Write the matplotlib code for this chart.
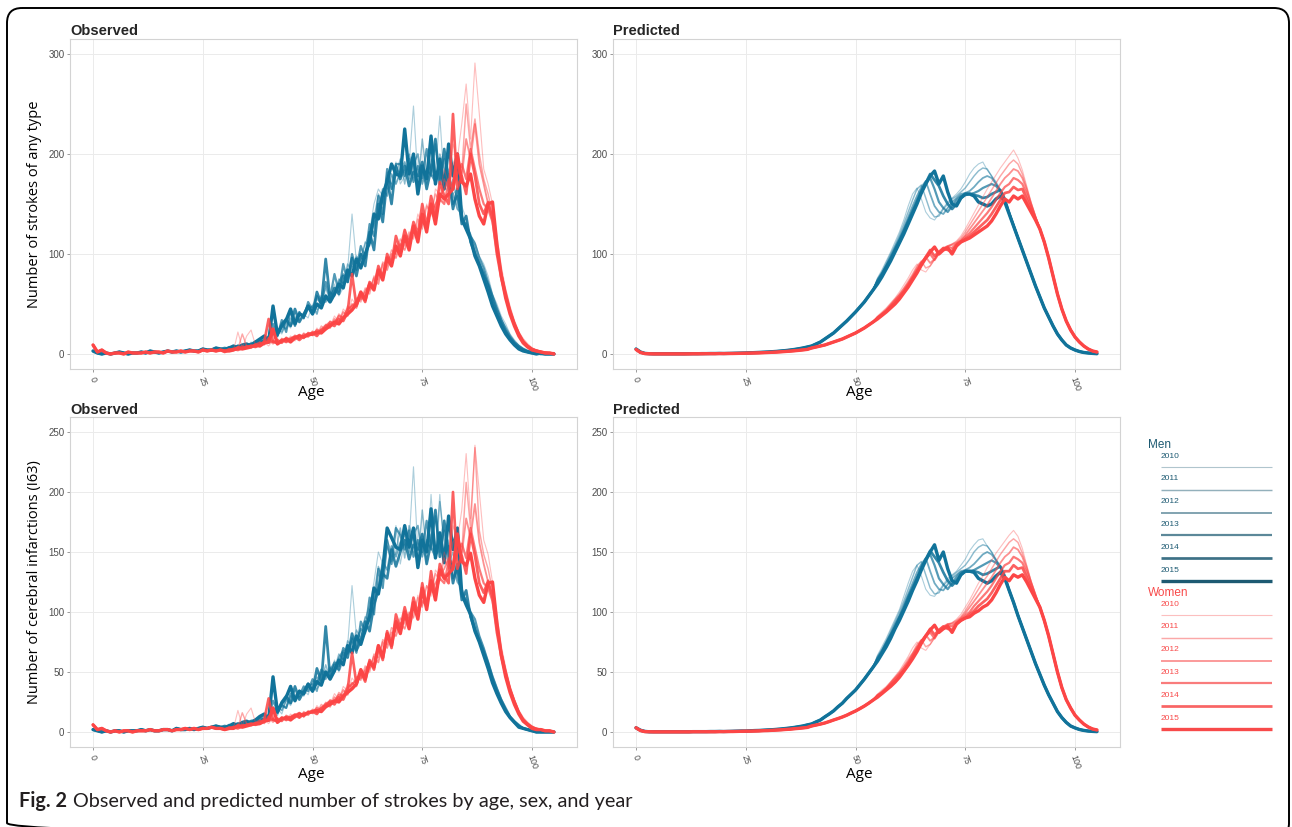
import matplotlib
matplotlib.use('Agg')
import matplotlib.pyplot as plt
from matplotlib.lines import Line2D
from matplotlib.patches import FancyBboxPatch

# ============================================================
# Data
# ============================================================

AGES = list(range(0, 106))
YEARS = ['2010', '2011', '2012', '2013', '2014', '2015']
AGE_TICKS = [0, 25, 50, 75, 100]

# --- Observed, strokes of any type: ages 0-29 shared, 30-105 per year ---
OBS_ANY_MEN_YOUNG = [3, 1, 0, 1, 0, 1, 2, 1, 0, 1,
                     1, 2, 1, 3, 2, 1, 2, 3, 2, 3,
                     2, 3, 4, 3, 3, 5, 4, 4, 6, 5]
OBS_ANY_WOMEN_YOUNG = [9, 2, 4, 1, 0, 1, 1, 0, 2, 1,
                       1, 1, 2, 1, 2, 2, 1, 3, 2, 2,
                       3, 2, 3, 3, 2, 4, 3, 4, 3, 4]

OBS_ANY_MEN_2010 = [6, 4, 8, 5, 9, 7, 12, 8, 10, 15,
                    13, 19, 24, 20, 30, 26, 38, 33, 40, 36,
                    50, 44, 48, 60, 52, 70, 58, 66, 85, 140,
                    92, 98, 110, 122, 150, 165, 158, 175, 170, 192,
                    170, 178, 190, 248, 175, 188, 170, 195, 182, 238,
                    170, 185, 160, 165, 148, 135, 118, 112, 98, 90,
                    78, 60, 50, 38, 30, 20, 14, 9, 6, 4,
                    3, 2, 1, 1, 0, 0]
OBS_ANY_MEN_2011 = [4, 7, 5, 9, 6, 10, 8, 13, 11, 14,
                    18, 22, 17, 28, 25, 36, 31, 42, 35, 48,
                    42, 55, 50, 66, 54, 60, 75, 70, 90, 82,
                    98, 92, 112, 108, 135, 160, 150, 182, 165, 178,
                    195, 170, 200, 185, 165, 215, 178, 190, 170, 200,
                    185, 162, 175, 150, 138, 128, 120, 105, 92, 80,
                    70, 55, 42, 32, 22, 16, 11, 7, 4, 3,
                    2, 1, 1, 0, 0, 0]
OBS_ANY_MEN_2012 = [5, 6, 7, 6, 8, 9, 7, 11, 14, 12,
                    16, 20, 25, 22, 32, 28, 35, 40, 36, 45,
                    48, 40, 58, 52, 62, 58, 72, 80, 76, 88,
                    85, 100, 96, 118, 130, 142, 165, 158, 180, 170,
                    182, 192, 175, 190, 200, 170, 185, 178, 210, 175,
                    195, 168, 160, 145, 140, 125, 115, 102, 90, 82,
                    70, 58, 45, 35, 24, 17, 12, 8, 5, 3,
                    2, 1, 0, 1, 0, 0]
OBS_ANY_MEN_2013 = [5, 7, 6, 8, 9, 7, 10, 9, 13, 16,
                    14, 30, 18, 34, 22, 44, 28, 42, 36, 52,
                    44, 58, 50, 72, 56, 80, 62, 90, 72, 100,
                    84, 108, 96, 130, 118, 158, 140, 185, 165, 190,
                    190, 178, 195, 172, 188, 176, 205, 180, 172, 190,
                    170, 180, 150, 158, 135, 130, 118, 110, 96, 86,
                    72, 58, 46, 34, 26, 18, 12, 8, 5, 3,
                    2, 1, 1, 0, 0, 0]
OBS_ANY_MEN_2014 = [6, 5, 7, 8, 6, 9, 10, 12, 11, 13,
                    17, 24, 19, 30, 35, 28, 45, 32, 40, 48,
                    40, 62, 50, 95, 55, 66, 60, 78, 72, 96,
                    78, 100, 88, 122, 104, 150, 132, 175, 150, 188,
                    175, 188, 168, 182, 178, 192, 165, 185, 215, 170,
                    205, 175, 145, 165, 130, 138, 112, 100, 90, 78,
                    68, 52, 40, 30, 22, 15, 10, 6, 4, 2,
                    1, 1, 0, 0, 0, 0]
OBS_ANY_MEN_2015 = [4, 6, 8, 6, 9, 10, 8, 12, 15, 18,
                    12, 48, 20, 28, 34, 45, 30, 40, 38, 48,
                    40, 50, 46, 58, 52, 60, 70, 66, 84, 78,
                    95, 86, 100, 112, 140, 135, 160, 172, 190, 180,
                    178, 225, 180, 200, 160, 188, 175, 218, 170, 195,
                    165, 210, 178, 200, 135, 125, 115, 98, 88, 75,
                    62, 48, 38, 28, 20, 14, 9, 5, 3, 2,
                    1, 0, 1, 0, 0, 0]

OBS_ANY_WOMEN_2010 = [2, 5, 3, 22, 6, 18, 24, 9, 7, 12,
                      8, 14, 10, 16, 12, 18, 13, 20, 15, 22,
                      18, 26, 21, 30, 28, 38, 32, 45, 40, 55,
                      48, 62, 55, 72, 68, 86, 80, 98, 95, 112,
                      100, 125, 110, 118, 140, 128, 150, 138, 165, 160,
                      185, 170, 210, 195, 230, 270, 215, 291, 240, 185,
                      170, 150, 118, 88, 65, 48, 33, 22, 14, 9,
                      6, 4, 3, 2, 1, 1]
OBS_ANY_WOMEN_2011 = [4, 3, 6, 5, 20, 8, 6, 10, 12, 9,
                      14, 10, 15, 11, 17, 14, 19, 15, 21, 18,
                      23, 19, 28, 24, 33, 30, 40, 36, 48, 44,
                      56, 52, 66, 60, 78, 74, 92, 88, 104, 100,
                      115, 108, 122, 115, 135, 125, 148, 140, 160, 152,
                      175, 165, 190, 200, 182, 250, 205, 235, 200, 175,
                      160, 140, 112, 82, 64, 46, 33, 22, 15, 10,
                      6, 4, 3, 2, 1, 1]
OBS_ANY_WOMEN_2012 = [3, 4, 5, 6, 8, 6, 9, 7, 10, 13,
                      11, 13, 10, 15, 13, 16, 18, 15, 20, 17,
                      22, 20, 25, 29, 26, 35, 31, 42, 38, 50,
                      46, 60, 58, 64, 76, 70, 90, 84, 100, 96,
                      110, 104, 118, 124, 115, 138, 130, 142, 150, 158,
                      165, 175, 168, 188, 178, 215, 195, 230, 190, 170,
                      150, 138, 108, 82, 62, 44, 31, 21, 13, 8,
                      5, 4, 2, 2, 1, 0]
OBS_ANY_WOMEN_2013 = [3, 5, 4, 7, 6, 8, 7, 9, 11, 10,
                      16, 12, 14, 11, 16, 14, 17, 19, 16, 21,
                      19, 24, 22, 28, 32, 30, 38, 36, 45, 48,
                      52, 55, 62, 70, 66, 82, 78, 95, 90, 106,
                      102, 115, 110, 126, 120, 132, 128, 145, 140, 155,
                      150, 172, 165, 180, 190, 175, 205, 185, 165, 150,
                      145, 132, 102, 80, 60, 44, 30, 20, 13, 8,
                      5, 3, 2, 1, 1, 1]
OBS_ANY_WOMEN_2014 = [2, 4, 5, 4, 6, 7, 8, 7, 9, 12,
                      35, 12, 11, 14, 12, 15, 17, 14, 18, 20,
                      21, 18, 24, 26, 30, 28, 35, 33, 42, 80,
                      48, 60, 52, 72, 66, 88, 76, 100, 90, 118,
                      104, 124, 110, 132, 120, 150, 128, 158, 140, 172,
                      158, 150, 240, 165, 178, 160, 200, 178, 150, 140,
                      152, 135, 100, 76, 58, 42, 30, 20, 12, 8,
                      5, 3, 2, 1, 1, 0]
OBS_ANY_WOMEN_2015 = [3, 3, 4, 6, 5, 6, 7, 9, 8, 11,
                      12, 25, 10, 13, 15, 12, 16, 18, 17, 19,
                      20, 22, 21, 25, 28, 32, 30, 36, 40, 44,
                      50, 62, 54, 70, 64, 84, 74, 96, 88, 108,
                      98, 118, 104, 128, 112, 140, 122, 150, 130, 160,
                      155, 160, 165, 200, 172, 168, 180, 155, 138, 130,
                      150, 152, 110, 78, 56, 40, 28, 18, 11, 7,
                      4, 3, 2, 1, 1, 0]

# --- Observed, cerebral infarctions (I63) ---
OBS_I63_MEN_YOUNG = [2, 1, 0, 1, 0, 1, 1, 0, 1, 1,
                     1, 2, 1, 2, 1, 1, 2, 2, 1, 3,
                     2, 2, 3, 2, 3, 4, 3, 4, 5, 4]
OBS_I63_WOMEN_YOUNG = [6, 2, 3, 1, 0, 1, 0, 1, 1, 0,
                       1, 1, 1, 2, 1, 1, 2, 2, 1, 2,
                       2, 3, 2, 3, 2, 3, 3, 4, 3, 3]

OBS_I63_MEN_2010 = [5, 3, 6, 4, 8, 5, 10, 7, 9, 12,
                    11, 16, 20, 15, 26, 22, 30, 28, 35, 31,
                    42, 36, 40, 52, 45, 60, 50, 58, 72, 122,
                    80, 85, 95, 105, 125, 150, 140, 160, 150, 172,
                    140, 160, 158, 221, 150, 165, 140, 198, 150, 198,
                    145, 160, 130, 138, 120, 110, 98, 90, 80, 70,
                    60, 48, 38, 28, 20, 13, 9, 6, 3, 2,
                    1, 1, 1, 0, 0, 0]
OBS_I63_MEN_2011 = [3, 6, 4, 7, 5, 8, 7, 10, 9, 11,
                    14, 18, 14, 23, 20, 30, 26, 35, 30, 40,
                    36, 46, 42, 56, 45, 52, 65, 60, 76, 70,
                    85, 78, 96, 92, 115, 138, 128, 155, 142, 150,
                    170, 145, 172, 160, 140, 185, 150, 165, 145, 192,
                    160, 140, 150, 128, 118, 108, 100, 88, 76, 66,
                    56, 45, 34, 26, 18, 12, 8, 5, 3, 2,
                    1, 1, 0, 0, 0, 0]
OBS_I63_MEN_2012 = [4, 5, 6, 5, 7, 8, 6, 9, 12, 10,
                    13, 17, 21, 18, 27, 24, 30, 34, 31, 38,
                    40, 34, 50, 44, 54, 50, 62, 68, 65, 75,
                    72, 86, 82, 100, 110, 122, 142, 135, 155, 146,
                    158, 165, 150, 165, 172, 146, 160, 152, 180, 150,
                    168, 145, 138, 125, 120, 106, 98, 86, 76, 68,
                    58, 46, 36, 27, 19, 13, 9, 5, 3, 2,
                    1, 1, 0, 0, 0, 0]
OBS_I63_MEN_2013 = [4, 6, 5, 7, 8, 6, 8, 8, 11, 14,
                    12, 26, 18, 22, 20, 32, 28, 30, 38, 34,
                    44, 40, 52, 48, 51, 58, 55, 70, 66, 78,
                    66, 92, 84, 112, 98, 136, 120, 160, 140, 170,
                    164, 152, 168, 146, 160, 150, 176, 154, 146, 163,
                    146, 155, 128, 135, 115, 110, 100, 94, 80, 70,
                    58, 46, 36, 27, 20, 13, 9, 6, 3, 2,
                    1, 1, 0, 0, 0, 0]
OBS_I63_MEN_2014 = [5, 4, 6, 7, 5, 8, 9, 10, 9, 11,
                    14, 20, 16, 25, 30, 24, 38, 27, 34, 40,
                    34, 53, 42, 88, 46, 56, 52, 66, 62, 82,
                    68, 76, 92, 84, 106, 118, 132, 128, 152, 138,
                    150, 160, 144, 156, 152, 165, 140, 158, 185, 146,
                    176, 150, 124, 140, 110, 118, 96, 85, 76, 66,
                    56, 43, 33, 25, 18, 12, 8, 5, 3, 2,
                    1, 0, 0, 0, 0, 0]
OBS_I63_MEN_2015 = [3, 5, 7, 5, 8, 9, 7, 10, 13, 15,
                    10, 46, 17, 24, 29, 38, 26, 34, 32, 40,
                    34, 42, 39, 50, 44, 51, 60, 56, 72, 66,
                    80, 73, 85, 96, 120, 115, 136, 170, 162, 154,
                    152, 172, 154, 170, 137, 160, 150, 186, 145, 166,
                    141, 180, 152, 170, 115, 106, 98, 84, 75, 64,
                    53, 41, 32, 24, 17, 12, 8, 4, 3, 2,
                    1, 0, 0, 0, 0, 0]

OBS_I63_WOMEN_2010 = [2, 4, 3, 18, 5, 15, 20, 8, 6, 10,
                      7, 12, 8, 13, 10, 15, 11, 16, 12, 18,
                      15, 22, 18, 25, 23, 32, 27, 38, 34, 45,
                      40, 52, 46, 60, 57, 72, 66, 82, 78, 92,
                      84, 102, 90, 96, 114, 105, 122, 113, 135, 130,
                      150, 140, 172, 160, 185, 232, 178, 239, 200, 160,
                      148, 125, 98, 72, 54, 38, 27, 18, 11, 7,
                      5, 3, 2, 1, 1, 0]
OBS_I63_WOMEN_2011 = [3, 2, 5, 4, 16, 7, 5, 8, 10, 7,
                      12, 8, 12, 9, 14, 12, 15, 12, 17, 15,
                      19, 16, 23, 20, 27, 25, 33, 30, 40, 37,
                      46, 43, 55, 50, 65, 62, 77, 73, 87, 84,
                      95, 90, 100, 95, 112, 104, 122, 116, 132, 126,
                      145, 136, 158, 165, 150, 208, 170, 237, 168, 148,
                      136, 118, 94, 68, 52, 38, 27, 18, 12, 8,
                      5, 3, 2, 1, 1, 0]
OBS_I63_WOMEN_2012 = [2, 3, 4, 5, 6, 5, 7, 6, 8, 11,
                      9, 11, 8, 12, 11, 13, 15, 12, 16, 14,
                      18, 16, 20, 24, 21, 29, 26, 35, 31, 41,
                      38, 50, 48, 53, 63, 58, 75, 70, 83, 80,
                      91, 86, 98, 103, 95, 114, 108, 118, 124, 131,
                      136, 145, 140, 156, 148, 178, 162, 190, 158, 140,
                      125, 114, 90, 68, 51, 36, 26, 17, 11, 7,
                      4, 3, 2, 1, 1, 0]
OBS_I63_WOMEN_2013 = [2, 4, 3, 6, 5, 6, 6, 7, 9, 8,
                      13, 10, 11, 9, 13, 12, 14, 16, 13, 17,
                      16, 20, 18, 23, 26, 25, 31, 30, 37, 40,
                      43, 45, 51, 58, 55, 68, 65, 79, 75, 88,
                      85, 95, 91, 104, 99, 109, 106, 120, 116, 128,
                      124, 142, 136, 149, 157, 145, 170, 153, 136, 124,
                      120, 109, 85, 66, 50, 36, 25, 16, 10, 7,
                      4, 3, 2, 1, 1, 0]
OBS_I63_WOMEN_2014 = [2, 3, 4, 3, 5, 6, 7, 6, 7, 10,
                      28, 10, 9, 12, 10, 12, 14, 12, 15, 16,
                      17, 15, 20, 22, 25, 23, 29, 27, 35, 66,
                      40, 50, 42, 60, 52, 72, 60, 84, 70, 98,
                      86, 104, 90, 112, 98, 124, 104, 134, 112, 140,
                      130, 124, 200, 136, 147, 132, 165, 147, 124, 116,
                      126, 112, 83, 63, 48, 35, 25, 16, 10, 6,
                      4, 2, 2, 1, 1, 0]
OBS_I63_WOMEN_2015 = [2, 3, 3, 5, 4, 5, 6, 7, 7, 9,
                      10, 20, 8, 11, 12, 10, 13, 15, 14, 16,
                      17, 18, 17, 21, 23, 26, 25, 30, 33, 36,
                      40, 52, 44, 58, 54, 72, 62, 82, 72, 92,
                      82, 100, 86, 108, 94, 120, 102, 126, 110, 135,
                      128, 132, 136, 165, 142, 139, 149, 128, 114, 108,
                      124, 125, 91, 64, 46, 33, 23, 15, 9, 6,
                      3, 2, 2, 1, 1, 0]

# --- Predicted, any type: ages 0-54 shared, 55-105 per year ---
PRED_ANY_MEN_YOUNG = [5, 2, 0.6, 0.3, 0.2, 0.2, 0.2, 0.2, 0.2, 0.2,
                      0.2, 0.2, 0.3, 0.3, 0.3, 0.4, 0.4, 0.5, 0.5, 0.6,
                      0.5, 0.6, 0.7, 0.8, 0.9, 1.0, 1.2, 1.4, 1.6, 1.8,
                      2.0, 2.3, 2.6, 3.0, 3.4, 3.9, 4.5, 5.2, 6.0, 7.0,
                      8, 10, 12, 15, 18, 21, 25, 29, 33, 37.5,
                      42, 47, 52, 58, 64]
PRED_ANY_WOMEN_YOUNG = [4.5, 1.5, 0.4, 0.2, 0.1, 0.1, 0.1, 0.1, 0.1, 0.1,
                        0.1, 0.1, 0.1, 0.2, 0.2, 0.2, 0.3, 0.3, 0.3, 0.4,
                        0.4, 0.5, 0.5, 0.6, 0.7, 0.8, 0.9, 1.0, 1.1, 1.3,
                        1.5, 1.7, 1.9, 2.2, 2.5, 2.8, 3.2, 3.6, 4.1, 4.6,
                        6, 7, 8, 9, 10.5, 12, 13.5, 15, 17, 19,
                        21, 23.5, 26, 29, 32]

PRED_ANY_MEN_2010 = [76, 84, 93, 102, 112, 122, 134, 148, 160, 166,
                     155, 142, 136, 134, 140, 146, 152, 156, 160, 165,
                     172, 180, 186, 190, 192, 184, 178, 170, 163, 152,
                     141, 129, 117, 105, 93, 81, 69, 58, 47, 38,
                     28, 20, 14, 9, 6, 4, 2.5, 1.5, 1, 0.6, 0.3]
PRED_ANY_MEN_2011 = [75, 82, 91, 100, 109, 119, 130, 142, 154, 165,
                     169, 156, 143, 137, 138, 145, 150, 155, 158, 162,
                     166, 172, 178, 183, 186, 185, 178, 172, 164, 153,
                     141, 129, 117, 105, 92, 80, 68, 57, 46, 37,
                     28, 20, 14, 9, 6, 4, 2.5, 1.5, 1, 0.6, 0.3]
PRED_ANY_MEN_2012 = [74, 81, 89, 98, 107, 116, 126, 137, 148, 158,
                     167, 173, 160, 148, 142, 140, 146, 152, 156, 160,
                     161, 163, 167, 172, 176, 178, 176, 170, 164, 154,
                     141, 129, 117, 104, 92, 80, 68, 57, 46, 37,
                     28, 20, 14, 9, 6, 4, 2.5, 1.5, 1, 0.6, 0.3]
PRED_ANY_MEN_2013 = [73, 80, 88, 96, 105, 114, 124, 134, 144, 154,
                     164, 172, 176, 165, 152, 146, 142, 148, 154, 158,
                     160, 160, 161, 163, 166, 168, 170, 168, 163, 154,
                     141, 129, 116, 104, 92, 80, 68, 57, 46, 37,
                     28, 20, 14, 9, 6, 4, 2.5, 1.5, 1, 0.6, 0.3]
PRED_ANY_MEN_2014 = [72, 79, 87, 95, 104, 113, 122, 132, 142, 152,
                     162, 171, 180, 174, 168, 158, 150, 145, 150, 156,
                     159, 160, 159, 158, 156, 157, 160, 162, 164, 155,
                     141, 128, 116, 104, 92, 80, 68, 57, 46, 37,
                     28, 20, 14, 9, 6, 4, 2.5, 1.5, 1, 0.6, 0.3]
PRED_ANY_MEN_2015 = [70, 77, 85, 93, 102, 111, 120, 130, 140, 150,
                     161, 170, 178, 183, 170, 178, 162, 150, 148, 156,
                     160, 160, 158, 152, 150, 148, 150, 155, 158, 152,
                     140, 128, 116, 104, 92, 80, 68, 57, 46, 37,
                     28, 20, 14, 9, 6, 4, 2.5, 1.5, 1, 0.6, 0.3]

PRED_ANY_WOMEN_2010 = [38, 42, 46, 51, 56, 62, 69, 76, 84, 90,
                       84, 82, 88, 94, 100, 104, 107, 110, 113, 118,
                       125, 133, 141, 149, 157, 165, 172, 179, 186, 192,
                       198, 204, 196, 184, 168, 152, 138, 125, 112, 96,
                       78, 60, 45, 33, 24, 17, 12, 8, 5, 3, 2]
PRED_ANY_WOMEN_2011 = [37, 41, 45, 50, 55, 60, 66, 73, 80, 88,
                       93, 86, 88, 95, 101, 105, 108, 110, 112, 116,
                       122, 129, 136, 143, 150, 157, 164, 171, 178, 184,
                       190, 194, 190, 180, 166, 151, 138, 125, 112, 96,
                       78, 60, 45, 33, 24, 17, 12, 8, 5, 3, 2]
PRED_ANY_WOMEN_2012 = [37, 40, 44, 49, 54, 59, 65, 71, 78, 86,
                       92, 97, 91, 95, 102, 106, 108, 109, 111, 114,
                       119, 125, 131, 137, 143, 149, 156, 163, 170, 176,
                       180, 185, 183, 176, 164, 150, 137, 125, 112, 96,
                       78, 60, 45, 33, 24, 17, 12, 8, 5, 3, 2]
PRED_ANY_WOMEN_2013 = [36, 40, 43, 48, 53, 58, 63, 70, 77, 84,
                       91, 96, 100, 94, 101, 105, 107, 106, 110, 113,
                       117, 121, 126, 131, 136, 141, 147, 154, 161, 167,
                       170, 176, 174, 170, 160, 148, 136, 125, 112, 96,
                       78, 60, 45, 33, 24, 17, 12, 8, 5, 3, 2]
PRED_ANY_WOMEN_2014 = [36, 39, 43, 47, 51, 56, 62, 68, 75, 82,
                       90, 97, 104, 98, 102, 106, 104, 103, 109, 112,
                       115, 118, 122, 126, 130, 134, 140, 147, 154, 161,
                       162, 167, 164, 165, 155, 145, 135, 125, 112, 96,
                       78, 60, 45, 33, 24, 17, 12, 8, 5, 3, 2]
PRED_ANY_WOMEN_2015 = [35, 38.5, 42, 46, 50, 55, 61, 67, 74, 81,
                       89, 96, 102, 107, 100, 104, 106, 100, 108, 112,
                       114, 116, 119, 122, 125, 128, 133, 140, 148, 155,
                       152, 158, 155, 158, 150, 142, 134, 125, 112, 96,
                       78, 60, 45, 33, 24, 17, 12, 8, 5, 3, 2]

# --- Predicted, cerebral infarctions (I63) ---
PRED_I63_MEN_YOUNG = [3.5, 1.5, 0.5, 0.2, 0.2, 0.2, 0.2, 0.2, 0.2, 0.2,
                      0.2, 0.2, 0.2, 0.3, 0.3, 0.3, 0.3, 0.4, 0.4, 0.5,
                      0.4, 0.5, 0.6, 0.7, 0.8, 0.8, 1.0, 1.2, 1.3, 1.5,
                      1.7, 1.9, 2.2, 2.5, 2.9, 3.3, 3.8, 4.4, 5.0, 5.9,
                      6.7, 8.4, 10, 12.6, 15, 17.6, 21, 24, 28, 31.5,
                      35, 39.5, 44, 49, 54]
PRED_I63_WOMEN_YOUNG = [3.5, 1.2, 0.3, 0.2, 0.1, 0.1, 0.1, 0.1, 0.1, 0.1,
                        0.1, 0.1, 0.1, 0.2, 0.2, 0.2, 0.2, 0.2, 0.2, 0.3,
                        0.3, 0.4, 0.4, 0.5, 0.6, 0.7, 0.7, 0.8, 0.9, 1.1,
                        1.2, 1.4, 1.6, 1.8, 2.1, 2.3, 2.7, 3.0, 3.4, 3.8,
                        5, 5.8, 6.6, 7.5, 8.7, 10, 11.2, 12.5, 14, 15.8,
                        17.5, 19.5, 21.6, 24, 26.6]

PRED_I63_MEN_2010 = [64, 71, 78, 86, 94, 102, 113, 124, 134, 139,
                     130, 119, 114, 113, 118, 123, 128, 131, 134, 139,
                     144, 151, 156, 160, 161, 155, 150, 143, 137, 128,
                     118, 108, 98, 88, 78, 68, 58, 49, 39, 32,
                     24, 17, 12, 8, 5, 3.4, 2.1, 1.3, 0.8, 0.5, 0.3]
PRED_I63_MEN_2011 = [63, 69, 76, 84, 92, 100, 109, 119, 129, 139,
                     142, 131, 120, 115, 116, 122, 126, 130, 133, 136,
                     139, 144, 150, 154, 156, 155, 150, 144, 138, 129,
                     118, 108, 98, 88, 77, 67, 57, 48, 39, 31,
                     24, 17, 12, 8, 5, 3.4, 2.1, 1.3, 0.8, 0.5, 0.3]
PRED_I63_MEN_2012 = [62, 68, 75, 82, 90, 97, 106, 115, 124, 133,
                     140, 145, 134, 124, 119, 118, 123, 128, 131, 134,
                     135, 137, 140, 144, 148, 150, 148, 143, 138, 129,
                     118, 108, 98, 87, 77, 67, 57, 48, 39, 31,
                     24, 17, 12, 8, 5, 3.4, 2.1, 1.3, 0.8, 0.5, 0.3]
PRED_I63_MEN_2013 = [61, 67, 74, 81, 88, 96, 104, 113, 121, 129,
                     138, 144, 148, 139, 128, 123, 119, 124, 129, 133,
                     134, 134, 135, 137, 139, 141, 143, 141, 137, 129,
                     118, 108, 97, 87, 77, 67, 57, 48, 39, 31,
                     24, 17, 12, 8, 5, 3.4, 2.1, 1.3, 0.8, 0.5, 0.3]
PRED_I63_MEN_2014 = [60, 66, 73, 80, 87, 95, 102, 111, 119, 128,
                     136, 144, 151, 146, 141, 133, 126, 122, 126, 131,
                     134, 134, 134, 133, 131, 132, 134, 136, 138, 130,
                     118, 108, 97, 87, 77, 67, 57, 48, 39, 31,
                     24, 17, 12, 8, 5, 3.4, 2.1, 1.3, 0.8, 0.5, 0.3]
PRED_I63_MEN_2015 = [59, 65, 71, 78, 86, 93, 101, 109, 118, 126,
                     135, 143, 150, 156, 143, 150, 136, 126, 124, 131,
                     134, 134, 133, 128, 126, 124, 126, 130, 133, 128,
                     118, 108, 97, 87, 77, 67, 57, 48, 39, 31,
                     24, 17, 12, 8, 5, 3.4, 2.1, 1.3, 0.8, 0.5, 0.3]

PRED_I63_WOMEN_2010 = [31.5, 35, 38, 42, 46.5, 51, 57, 63, 70, 75,
                       70, 68, 73, 78, 83, 86, 89, 91, 94, 98,
                       104, 110, 117, 124, 130, 137, 143, 149, 154, 159,
                       164, 168, 163, 153, 139, 126, 115, 104, 93, 80,
                       65, 50, 37, 27, 20, 14, 10, 6.6, 4.2, 2.5, 1.7]
PRED_I63_WOMEN_2011 = [31, 34, 37, 41.5, 45.6, 50, 55, 61, 66, 73,
                       77, 71, 73, 79, 84, 87, 90, 91, 93, 96,
                       101, 107, 113, 119, 125, 130, 136, 142, 148, 153,
                       158, 161, 158, 149, 138, 125, 115, 104, 93, 80,
                       65, 50, 37, 27, 20, 14, 10, 6.6, 4.2, 2.5, 1.7]
PRED_I63_WOMEN_2012 = [31, 33, 36.5, 40.7, 45, 49, 54, 59, 65, 71,
                       76, 81, 76, 79, 85, 88, 90, 90, 92, 95,
                       99, 104, 109, 114, 119, 124, 129, 135, 141, 146,
                       149, 154, 152, 146, 136, 125, 114, 104, 93, 80,
                       65, 50, 37, 27, 20, 14, 10, 6.6, 4.2, 2.5, 1.7]
PRED_I63_WOMEN_2013 = [30, 33, 36, 40, 44, 48, 52, 58, 64, 70,
                       76, 80, 83, 78, 84, 87, 89, 88, 91, 94,
                       97, 100, 105, 109, 113, 117, 122, 128, 134, 139,
                       141, 146, 144, 141, 133, 123, 113, 104, 93, 80,
                       65, 50, 37, 27, 20, 14, 10, 6.6, 4.2, 2.5, 1.7]
PRED_I63_WOMEN_2014 = [30, 32, 36, 39, 42, 46.5, 51.5, 56, 62, 68,
                       75, 80, 86, 81, 85, 88, 86, 85, 90, 93,
                       95, 98, 101, 105, 108, 111, 116, 122, 128, 134,
                       134, 139, 136, 137, 129, 120, 112, 104, 93, 80,
                       65, 50, 37, 27, 20, 14, 10, 6.6, 4.2, 2.5, 1.7]
PRED_I63_WOMEN_2015 = [29, 32, 35, 38, 41.5, 45.6, 50.6, 55.6, 61, 67,
                       74, 80, 85, 89, 83, 86, 88, 83, 90, 93,
                       95, 96, 99, 101, 104, 106, 110, 116, 123, 129,
                       126, 131, 129, 131, 125, 118, 111, 104, 93, 80,
                       65, 50, 37, 27, 20, 14, 10, 6.6, 4.2, 2.5, 1.7]

# ============================================================
# Styl
# ============================================================

W, H = 1292, 827

MEN_COLOR = '#11739a'
WOMEN_COLOR = '#fc4646'
MEN_LEG_COLOR = '#1d5a72'
WOMEN_LEG_COLOR = '#f84a4a'
ALPHAS = [0.35, 0.48, 0.6, 0.72, 0.86, 1.0]
LWS = [0.8, 1.05, 1.3, 1.6, 1.95, 2.4]

SANS = ['Liberation Sans', 'DejaVu Sans']
BODY = ['Open Sans', 'DejaVu Sans']
CAPTION = ['Lato', 'DejaVu Sans']


def full(young, tail):
    vals = list(young) + list(tail)
    if len(vals) != len(AGES):
        raise ValueError(f'bad length {len(vals)}')
    return vals


def px_axes(fig, left, top, right, bottom):
    return fig.add_axes([left / W, 1 - bottom / H, (right - left) / W, (bottom - top) / H])


def draw_panel(ax, men, women, ylim, yticks):
    for i, vals in enumerate(men):
        ax.plot(AGES, vals, color=MEN_COLOR, alpha=ALPHAS[i], lw=LWS[i],
                solid_joinstyle='round', solid_capstyle='round')
    for i, vals in enumerate(women):
        ax.plot(AGES, vals, color=WOMEN_COLOR, alpha=ALPHAS[i], lw=LWS[i],
                solid_joinstyle='round', solid_capstyle='round')
    ax.set_xlim(-5.25, 110.25)
    ax.set_ylim(*ylim)
    ax.set_xticks(AGE_TICKS)
    ax.set_yticks(yticks)
    ax.grid(True, color='#ebebeb', lw=0.7)
    ax.set_axisbelow(True)
    for s in ax.spines.values():
        s.set_color('#d3d3d3')
        s.set_linewidth(0.8)
    ax.tick_params(axis='both', length=2.5, width=0.6, color='#8a8a8a',
                   labelcolor='#4d4d4d', pad=1.5)
    ax.tick_params(axis='y', labelsize=7)
    ax.tick_params(axis='x', labelsize=6.3, labelrotation=-70, pad=2)
    for lab in ax.get_xticklabels() + ax.get_yticklabels():
        lab.set_fontfamily(SANS)


# ============================================================
# Kreslenie
# ============================================================

fig = plt.figure(figsize=(W / 100, H / 100), dpi=100)
fig.patch.set_facecolor('white')

obs_any_men = [full(OBS_ANY_MEN_YOUNG, t) for t in
               [OBS_ANY_MEN_2010, OBS_ANY_MEN_2011, OBS_ANY_MEN_2012,
                OBS_ANY_MEN_2013, OBS_ANY_MEN_2014, OBS_ANY_MEN_2015]]
obs_any_women = [full(OBS_ANY_WOMEN_YOUNG, t) for t in
                 [OBS_ANY_WOMEN_2010, OBS_ANY_WOMEN_2011, OBS_ANY_WOMEN_2012,
                  OBS_ANY_WOMEN_2013, OBS_ANY_WOMEN_2014, OBS_ANY_WOMEN_2015]]
obs_i63_men = [full(OBS_I63_MEN_YOUNG, t) for t in
               [OBS_I63_MEN_2010, OBS_I63_MEN_2011, OBS_I63_MEN_2012,
                OBS_I63_MEN_2013, OBS_I63_MEN_2014, OBS_I63_MEN_2015]]
obs_i63_women = [full(OBS_I63_WOMEN_YOUNG, t) for t in
                 [OBS_I63_WOMEN_2010, OBS_I63_WOMEN_2011, OBS_I63_WOMEN_2012,
                  OBS_I63_WOMEN_2013, OBS_I63_WOMEN_2014, OBS_I63_WOMEN_2015]]
pred_any_men = [full(PRED_ANY_MEN_YOUNG, t) for t in
                [PRED_ANY_MEN_2010, PRED_ANY_MEN_2011, PRED_ANY_MEN_2012,
                 PRED_ANY_MEN_2013, PRED_ANY_MEN_2014, PRED_ANY_MEN_2015]]
pred_any_women = [full(PRED_ANY_WOMEN_YOUNG, t) for t in
                  [PRED_ANY_WOMEN_2010, PRED_ANY_WOMEN_2011, PRED_ANY_WOMEN_2012,
                   PRED_ANY_WOMEN_2013, PRED_ANY_WOMEN_2014, PRED_ANY_WOMEN_2015]]
pred_i63_men = [full(PRED_I63_MEN_YOUNG, t) for t in
                [PRED_I63_MEN_2010, PRED_I63_MEN_2011, PRED_I63_MEN_2012,
                 PRED_I63_MEN_2013, PRED_I63_MEN_2014, PRED_I63_MEN_2015]]
pred_i63_women = [full(PRED_I63_WOMEN_YOUNG, t) for t in
                  [PRED_I63_WOMEN_2010, PRED_I63_WOMEN_2011, PRED_I63_WOMEN_2012,
                   PRED_I63_WOMEN_2013, PRED_I63_WOMEN_2014, PRED_I63_WOMEN_2015]]

ax_tl = px_axes(fig, 70, 39, 577, 369)
ax_tr = px_axes(fig, 613, 39, 1120, 369)
ax_bl = px_axes(fig, 70, 417, 577, 747)
ax_br = px_axes(fig, 613, 417, 1120, 747)

draw_panel(ax_tl, obs_any_men, obs_any_women, (-15, 315), [0, 100, 200, 300])
draw_panel(ax_tr, pred_any_men, pred_any_women, (-15, 315), [0, 100, 200, 300])
draw_panel(ax_bl, obs_i63_men, obs_i63_women, (-12.5, 262.5), [0, 50, 100, 150, 200, 250])
draw_panel(ax_br, pred_i63_men, pred_i63_women, (-12.5, 262.5), [0, 50, 100, 150, 200, 250])

# overlay v pixeloch pre texty, legendu a ramik
ov = fig.add_axes([0, 0, 1, 1])
ov.set_xlim(0, W)
ov.set_ylim(H, 0)
ov.axis('off')

ov.add_patch(FancyBboxPatch((7, 8), 1282, 830, boxstyle='round,pad=0,rounding_size=15',
                            fill=False, ec='black', lw=1.4, clip_on=True))

for x, y, t in [(70, 35, 'Observed'), (613, 35, 'Predicted'),
                (70, 414, 'Observed'), (613, 414, 'Predicted')]:
    ov.text(x, y, t, fontsize=10.5, fontweight='bold', color='#262626',
            family=SANS, ha='left', va='baseline')

for x, y in [(311, 393), (859, 393), (311, 774), (859, 774)]:
    ov.text(x, y, 'Age', fontsize=11, color='black', family=BODY, ha='center', va='center')

ov.text(35, 204, 'Number of strokes of any type', fontsize=10.5, family=BODY,
        rotation=90, ha='center', va='center')
ov.text(35, 582, 'Number of cerebral infarctions (I63)', fontsize=10.5, family=BODY,
        rotation=90, ha='center', va='center')

# legenda
def draw_legend(title, title_y, color, y0):
    ov.text(1148, title_y, title, fontsize=8.5, color=color, family=SANS,
            ha='left', va='center')
    for i, yr in enumerate(YEARS):
        ty = y0 + i * 22.8
        ov.text(1161, ty, yr, fontsize=6, color=color, family=SANS,
                ha='left', va='center')
        ov.add_line(Line2D([1161, 1272], [ty + 11, ty + 11], color=color,
                           alpha=ALPHAS[i], lw=LWS[i], solid_capstyle='butt'))

draw_legend('Men', 445, MEN_LEG_COLOR, 456)
draw_legend('Women', 593, WOMEN_LEG_COLOR, 604)

# popis obrazku
ov.text(19, 807, 'Fig. 2', fontsize=14.3, fontweight='bold', family=CAPTION,
        color='#231f20', ha='left', va='baseline')
ov.text(73, 807, 'Observed and predicted number of strokes by age, sex, and year',
        fontsize=14.3, family=CAPTION, color='#231f20', ha='left', va='baseline')

fig.savefig('out.png', dpi=100)
